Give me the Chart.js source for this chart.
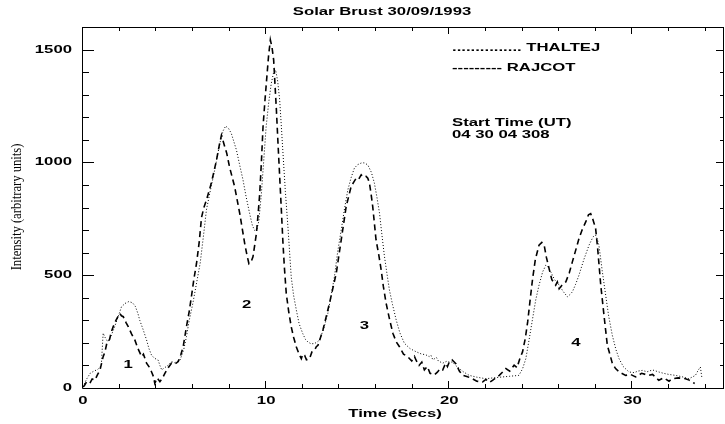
<!DOCTYPE html>
<html>
<head>
<meta charset="utf-8">
<script src="https://cdn.jsdelivr.net/npm/chart.js@4"></script>
<style>
  body { margin: 0; background: #fff; }
  canvas { display: block; }
</style>
</head>
<body>
<canvas id="myChart" width="725" height="424"></canvas>
<script>
// THALTEJ (dotted)
const thaltejTime = [0, 0.2, 0.4, 0.6, 0.8, 1.0, 1.1, 1.2, 1.35, 1.5, 1.7, 1.85, 2.0, 2.1, 2.3, 2.5, 2.7, 2.85, 3.0, 3.1,
  3.3, 3.47, 3.6, 3.74, 3.9, 4.1, 4.2, 4.3, 4.45, 4.56, 4.7, 4.83, 5.0, 5.15, 5.3, 5.5, 5.65, 5.8, 6.0, 6.2,
  6.4, 6.6, 6.74, 6.92, 7.19, 7.47, 7.65, 7.79, 7.95, 8.1, 8.38, 8.55, 8.74, 8.9, 9.1, 9.25, 9.37, 9.5, 9.6, 9.74,
  9.87, 10.0, 10.14, 10.28, 10.4, 10.52, 10.63, 10.74, 10.83, 10.92, 11.05, 11.19, 11.37, 11.5, 11.65, 11.8, 12.0, 12.15, 12.28, 12.45,
  12.64, 12.8, 12.92, 13.15, 13.37, 13.55, 13.73, 13.9, 14.1, 14.28, 14.46, 14.65, 14.82, 15.0, 15.19, 15.35, 15.55, 15.75, 15.91, 16.05,
  16.19, 16.32, 16.46, 16.6, 16.73, 16.9, 17.1, 17.3, 17.55, 17.85, 18.18, 18.5, 18.7, 18.9, 19.0, 19.1, 19.2, 19.3, 19.4, 19.64,
  19.85, 20.0, 20.18, 20.35, 20.54, 20.8, 21.09, 21.5, 22.0, 22.4, 22.9, 23.3, 23.8, 24.0, 24.18, 24.35, 24.55, 24.72, 24.9, 25.1,
  25.27, 25.4, 25.54, 25.75, 26.0, 26.2, 26.45, 26.6, 26.72, 26.9, 27.08, 27.35, 27.63, 27.85, 27.99, 28.08, 28.17, 28.35, 28.54, 28.7,
  28.9, 29.1, 29.27, 29.5, 29.81, 30.1, 30.3, 30.54, 30.8, 31.1, 31.44, 31.7, 32.0, 32.35, 32.7, 33.08, 33.3, 33.44, 33.6, 33.71, 33.8];
const thaltejValues = [5, 40, 66, 75, 82, 100, 243, 225, 205, 225, 265, 300, 335, 360, 375, 383, 378, 363, 330, 300,
  255, 213, 175, 146, 132, 124, 100, 80, 90, 95, 105, 117, 112, 118, 124, 170, 228, 300, 376, 465,
  554, 690, 790, 862, 966, 1084, 1140, 1161, 1150, 1128, 1054, 990, 921, 850, 773, 720, 699, 705, 740, 862,
  1010, 1158, 1265, 1350, 1395, 1409, 1360, 1276, 1160, 1040, 870, 714, 492, 410, 345, 285, 241, 215, 204, 196,
  197, 205, 213, 265, 331, 410, 494, 600, 701, 795, 878, 935, 975, 990, 997, 998, 989, 955, 908, 845,
  775, 680, 583, 505, 435, 370, 302, 245, 198, 175, 161, 150, 148, 139, 145, 125, 130, 135, 120, 110,
  118, 115, 115, 100, 86, 70, 56, 48, 41, 45, 49, 52, 56, 85, 130, 210, 308, 390, 456, 515,
  544, 535, 515, 480, 456, 430, 404, 415, 426, 460, 500, 570, 633, 670, 677, 660, 633, 520, 411, 320,
  234, 170, 130, 95, 71, 68, 75, 78, 72, 80, 71, 65, 60, 56, 50, 41, 50, 56, 80, 93, 41];

// RAJCOT (dashed)
const rajcotTime = [0, 0.07, 0.2, 0.38, 0.5, 0.65, 0.8, 0.93, 1.1, 1.2, 1.3, 1.45, 1.55, 1.65, 1.8, 2.0, 2.1, 2.2, 2.35, 2.47,
  2.65, 2.83, 3.0, 3.2, 3.3, 3.47, 3.6, 3.74, 3.85, 3.92, 4.05, 4.2, 4.35, 4.47, 4.65, 4.83, 5.0, 5.2, 5.35, 5.47,
  5.65, 5.8, 5.92, 6.05, 6.2, 6.35, 6.47, 6.6, 6.74, 7.0, 7.29, 7.45, 7.56, 7.65, 7.74, 7.85, 8.0, 8.28, 8.56, 8.83,
  8.95, 9.06, 9.18, 9.28, 9.47, 9.56, 9.65, 9.74, 9.83, 9.94, 10.04, 10.13, 10.23, 10.32, 10.41, 10.48, 10.56, 10.65, 10.74, 10.83,
  10.92, 11.0, 11.1, 11.23, 11.37, 11.5, 11.65, 11.8, 11.92, 12.0, 12.1, 12.2, 12.37, 12.5, 12.64, 12.74, 12.83, 13.1, 13.46, 13.83,
  14.1, 14.37, 14.64, 14.8, 14.92, 15.05, 15.19, 15.3, 15.46, 15.55, 15.64, 15.73, 15.82, 16.0, 16.15, 16.28, 16.4, 16.55, 16.75, 16.92,
  17.1, 17.28, 17.5, 17.73, 17.95, 18.1, 18.18, 18.35, 18.5, 18.64, 18.8, 18.95, 19.18, 19.35, 19.5, 19.64, 19.8, 19.9, 20.0, 20.15,
  20.36, 20.55, 20.73, 21.0, 21.27, 21.5, 21.82, 22.0, 22.2, 22.36, 22.55, 22.73, 22.9, 23.09, 23.3, 23.54, 23.7, 23.85, 24.0, 24.15,
  24.28, 24.4, 24.55, 24.7, 24.9, 25.05, 25.18, 25.3, 25.45, 25.6, 25.81, 25.9, 26.0, 26.15, 26.36, 26.55, 26.72, 26.9, 27.08, 27.25,
  27.45, 27.6, 27.72, 27.85, 27.99, 28.1, 28.27, 28.45, 28.63, 28.8, 28.9, 29.08, 29.3, 29.63, 29.9, 30.17, 30.5, 30.9, 31.1, 31.44,
  31.7, 32.0, 32.17, 32.5, 32.9, 33.1, 33.26, 33.4];
const rajcotValues = [5, 10, 28, 22, 40, 35, 60, 80, 139, 160, 198, 215, 250, 272, 300, 331, 320, 316, 290, 272,
  240, 213, 175, 139, 150, 110, 95, 72, 50, 21, 45, 28, 45, 65, 90, 110, 105, 117, 150, 183,
  272, 340, 405, 480, 553, 650, 755, 800, 833, 906, 1010, 1080, 1120, 1095, 1069, 1040, 980, 892, 773, 640,
  590, 551, 560, 581, 685, 770, 862, 1000, 1158, 1280, 1380, 1470, 1543, 1510, 1454, 1350, 1232, 1080, 936, 790,
  640, 530, 418, 340, 271, 225, 182, 150, 130, 150, 145, 125, 130, 160, 167, 183, 189, 257, 376, 509,
  657, 804, 893, 915, 930, 925, 945, 935, 938, 930, 908, 860, 804, 657, 590, 524, 450, 376, 300, 243,
  205, 183, 150, 139, 120, 140, 124, 100, 115, 80, 95, 65, 58, 70, 85, 80, 110, 95, 115, 125,
  108, 75, 56, 50, 41, 30, 27, 38, 25, 34, 45, 56, 70, 86, 75, 101, 90, 130, 160, 220,
  293, 380, 485, 570, 633, 645, 633, 580, 529, 480, 456, 470, 440, 455, 470, 510, 559, 610, 662, 700,
  736, 768, 773, 745, 707, 620, 456, 320, 189, 140, 110, 86, 70, 56, 60, 49, 65, 56, 60, 34,
  45, 30, 41, 45, 41, 35, 27, 20];

const xMajorTicks = [0, 10, 20, 30];
const yMajorTicks = [0, 500, 1000, 1500];
const burstLabels = ["1", "2", "3", "4"];
const burstTimes = [2.46, 8.94, 15.37, 26.92];
const burstValues = [102, 368, 275, 200];

const SANS = "bold 11px 'Liberation Sans', Arial, sans-serif";
const STRETCH = 1.52;

function drawText(ctx, text, x, y, align, font, stretch, rotate) {
  ctx.save();
  ctx.font = font;
  ctx.fillStyle = "#000";
  ctx.textBaseline = "middle";
  const w = ctx.measureText(text).width;
  ctx.translate(x, y);
  if (rotate) ctx.rotate(-Math.PI / 2);
  ctx.scale(stretch, 1);
  let ox = -w / 2;
  if (align === "left") ox = 0;
  if (align === "right") ox = -w;
  ctx.fillText(text, ox, 0);
  ctx.restore();
}

const axesPlugin = {
  id: "idlAxes",
  afterDraw(chart) {
    const { ctx, chartArea: a, scales } = chart;
    const xs = scales.x, ys = scales.y;
    ctx.save();
    ctx.strokeStyle = "#000";
    ctx.lineWidth = 1;
    ctx.beginPath();
    ctx.rect(a.left - 0.5, a.top + 0.5, a.right - a.left, a.bottom - a.top);
    // x ticks, bottom and top, pointing inward
    for (let v = 0; v <= 35; v += 2) {
      const px = Math.round(xs.getPixelForValue(v)) - 0.5;
      ctx.moveTo(px, a.bottom); ctx.lineTo(px, a.bottom - 4);
      ctx.moveTo(px, a.top); ctx.lineTo(px, a.top + 4);
    }
    xMajorTicks.forEach(v => {
      const px = Math.round(xs.getPixelForValue(v)) - 0.5;
      ctx.moveTo(px, a.bottom); ctx.lineTo(px, a.bottom - 7);
      ctx.moveTo(px, a.top); ctx.lineTo(px, a.top + 7);
    });
    // y ticks, left and right
    for (let v = 0; v <= 1600; v += 100) {
      const py = Math.round(ys.getPixelForValue(v)) + 0.5;
      const major = yMajorTicks.includes(v);
      ctx.moveTo(a.left, py); ctx.lineTo(a.left + (major ? 11 : 6), py);
      ctx.moveTo(a.right, py); ctx.lineTo(a.right - (major ? 8 : 4), py);
    }
    ctx.stroke();
    ctx.restore();

    xMajorTicks.forEach(v => drawText(ctx, String(v), xs.getPixelForValue(v), a.bottom + 13, "center", SANS, STRETCH));
    yMajorTicks.forEach(v => drawText(ctx, String(v), a.left - 11, ys.getPixelForValue(v), "right", SANS, STRETCH));
    burstLabels.forEach((t, i) =>
      drawText(ctx, t, xs.getPixelForValue(burstTimes[i]), ys.getPixelForValue(burstValues[i]), "center", SANS, STRETCH));

    drawText(ctx, "Solar Brust 30/09/1993", 382, 12, "center", SANS, STRETCH);
    drawText(ctx, "Time (Secs)", 395, 414, "center", SANS, STRETCH);
    drawText(ctx, "Intensity (arbitrary units)", 17, 207, "center", "15px 'Liberation Serif', serif", 0.84, true);
    drawText(ctx, "............... THALTEJ", 452, 48, "left", SANS, STRETCH);
    drawText(ctx, "--------- RAJCOT", 452, 68, "left", SANS, STRETCH);
    drawText(ctx, "Start Time (UT)", 452, 123, "left", SANS, STRETCH);
    drawText(ctx, "04 30 04 308", 452, 135, "left", SANS, STRETCH);
  }
};

function toPoints(times, values) {
  return times.map((t, i) => ({ x: t, y: values[i] }));
}

const config = {
  type: "line",
  data: {
    datasets: [
      {
        label: "THALTEJ",
        data: toPoints(thaltejTime, thaltejValues),
        borderColor: "#000",
        borderWidth: 1,
        borderDash: [1, 2],
      },
      {
        label: "RAJCOT",
        data: toPoints(rajcotTime, rajcotValues),
        borderColor: "#000",
        borderWidth: 1.6,
        borderDash: [6, 4],
      },
    ],
  },
  options: {
    responsive: false,
    animation: false,
    devicePixelRatio: 1,
    layout: { padding: { left: 83, right: 1, top: 27, bottom: 36 } },
    elements: { point: { radius: 0 }, line: { tension: 0 } },
    plugins: { legend: { display: false }, tooltip: { enabled: false } },
    scales: {
      x: { type: "linear", min: 0, max: 35, display: false },
      y: { type: "linear", min: 0, max: 1600, display: false },
    },
  },
  plugins: [axesPlugin],
};

new Chart(document.getElementById("myChart"), config);
</script>
</body>
</html>
